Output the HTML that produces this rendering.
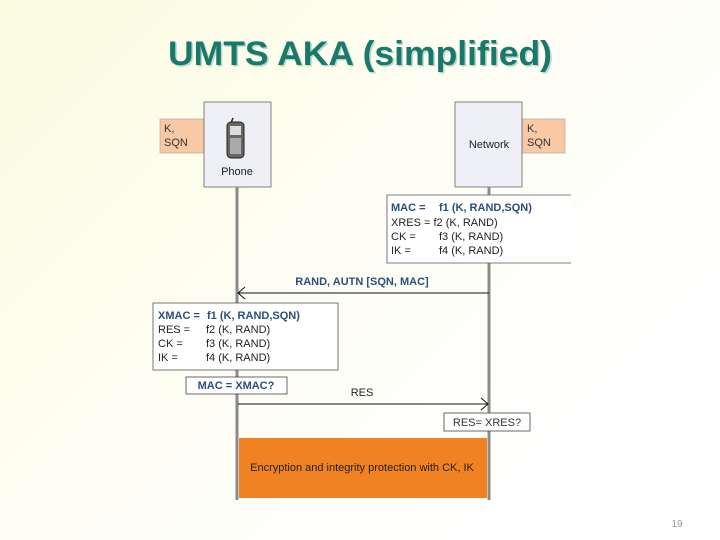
<!DOCTYPE html>
<html><head><meta charset="utf-8"><style>
html,body{margin:0;padding:0}
body{width:720px;height:540px;overflow:hidden;background:linear-gradient(135deg,#fbfbe0 0%,#fefef4 45%,#ffffff 80%);font-family:"Liberation Sans",sans-serif;position:relative}
</style></head><body>
<svg width="720" height="540" style="position:absolute;left:0;top:0" font-family="Liberation Sans, sans-serif">
<text x="360" y="65" text-anchor="middle" font-size="34" font-weight="bold" fill="#b8d8d0" transform="translate(1.5,1.5)" textLength="384" lengthAdjust="spacingAndGlyphs">UMTS AKA (simplified)</text>
<text x="360" y="65" text-anchor="middle" font-size="34" font-weight="bold" fill="#1a7868" textLength="384" lengthAdjust="spacingAndGlyphs">UMTS AKA (simplified)</text>
<rect x="160" y="119" width="44" height="34" fill="#f9c9a6" stroke="#aaa" stroke-width="0.7"/>
<text x="164" y="132" font-size="11" fill="#333">K,</text>
<text x="164" y="146" font-size="11" fill="#333">SQN</text>
<rect x="522" y="119" width="43" height="34" fill="#f9c9a6" stroke="#aaa" stroke-width="0.7"/>
<text x="527" y="132" font-size="11" fill="#333">K,</text>
<text x="527" y="146" font-size="11" fill="#333">SQN</text>
<rect x="204" y="102" width="67" height="85" fill="#eef0f6" stroke="#666" stroke-width="0.8"/>
<rect x="455" y="102" width="67" height="85" fill="#eef0f6" stroke="#666" stroke-width="0.8"/>
<text x="237" y="175" text-anchor="middle" font-size="11" fill="#222">Phone</text>
<text x="489" y="148" text-anchor="middle" font-size="11" fill="#222">Network</text>
<g>
<line x1="231" y1="123" x2="233" y2="118" stroke="#222" stroke-width="1.5"/>
<rect x="227" y="122" width="17" height="36" rx="4" fill="#666" stroke="#222"/>
<rect x="230" y="126" width="11" height="9" fill="#ddd"/>
<rect x="230" y="138" width="11" height="16" fill="#aaa"/>
</g>
<line x1="237" y1="187" x2="237" y2="500" stroke="#8a8a8a" stroke-width="3"/>
<line x1="489" y1="187" x2="489" y2="500" stroke="#8a8a8a" stroke-width="3"/>
<rect x="387" y="195" width="184" height="68" fill="#fff"/>
<polyline points="571,195 387,195 387,263 571,263" fill="none" stroke="#555" stroke-width="0.8"/>
<g font-size="11" fill="#222">
<text x="391" y="211" fill="#2a4f7e" font-weight="bold">MAC =</text><text x="439" y="211" fill="#2a4f7e" font-weight="bold">f1 (K, RAND,SQN)</text>
<text x="391" y="226">XRES = f2 (K, RAND)</text>
<text x="391" y="240">CK =</text><text x="439" y="240">f3 (K, RAND)</text>
<text x="391" y="254">IK =</text><text x="439" y="254">f4 (K, RAND)</text>
</g>
<line x1="489" y1="293" x2="238" y2="293" stroke="#111" stroke-width="1"/>
<polyline points="245,287 238,293 245,299" fill="none" stroke="#111" stroke-width="1"/>
<text x="362" y="285" text-anchor="middle" font-size="11" font-weight="bold" fill="#2a4f7e">RAND, AUTN [SQN, MAC]</text>
<rect x="153" y="303" width="185" height="67" fill="#fff" stroke="#555" stroke-width="0.8"/>
<g font-size="11" fill="#222">
<text x="158" y="319" fill="#2a4f7e" font-weight="bold">XMAC =</text><text x="207" y="319" fill="#2a4f7e" font-weight="bold">f1 (K, RAND,SQN)</text>
<text x="158" y="333">RES =</text><text x="206" y="333">f2 (K, RAND)</text>
<text x="158" y="347">CK =</text><text x="206" y="347">f3 (K, RAND)</text>
<text x="158" y="361">IK =</text><text x="206" y="361">f4 (K, RAND)</text>
</g>
<rect x="186" y="377" width="101" height="17" fill="#fff" stroke="#444" stroke-width="0.8"/>
<text x="236" y="389" text-anchor="middle" font-size="11" font-weight="bold" fill="#2a4f7e">MAC = XMAC?</text>
<line x1="238" y1="404" x2="488" y2="404" stroke="#111" stroke-width="1"/>
<polyline points="481,398 488,404 481,410" fill="none" stroke="#111" stroke-width="1"/>
<text x="362" y="396" text-anchor="middle" font-size="11" fill="#222">RES</text>
<rect x="444" y="413" width="86" height="18" fill="#fff" stroke="#444" stroke-width="0.8"/>
<text x="487" y="426" text-anchor="middle" font-size="11" fill="#333">RES= XRES?</text>
<rect x="239" y="438" width="248" height="60" fill="#f18222"/>
<text x="362" y="471" text-anchor="middle" font-size="11" fill="#222">Encryption and integrity protection with CK, IK</text>
<text x="677" y="527" text-anchor="middle" font-size="10" fill="#999">19</text>
</svg>
</body></html>
